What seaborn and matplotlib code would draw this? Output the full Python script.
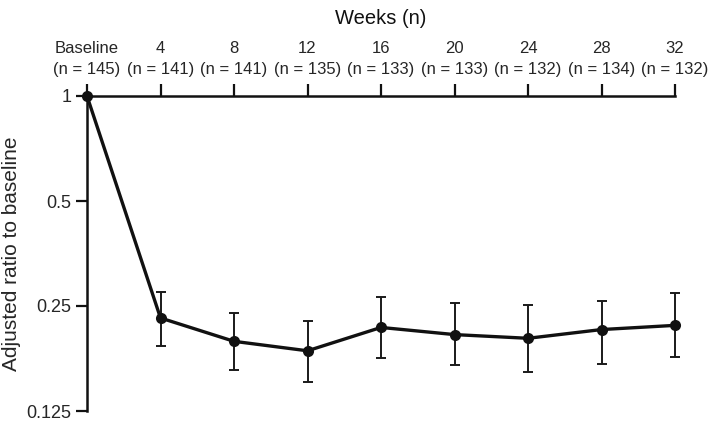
import matplotlib
matplotlib.use("Agg")
import matplotlib.pyplot as plt
import matplotlib.ticker as mticker
import seaborn as sns
import pandas as pd
import numpy as np

weeks = [0, 4, 8, 12, 16, 20, 24, 28, 32]
week_labels = ["Baseline", "4", "8", "12", "16", "20", "24", "28", "32"]
n_counts = [145, 141, 141, 135, 133, 133, 132, 134, 132]
ratio = [1.0, 0.231, 0.198, 0.186, 0.217, 0.207, 0.202, 0.214, 0.220]
ci_low = [1.0, 0.192, 0.164, 0.151, 0.177, 0.169, 0.162, 0.170, 0.179]
ci_high = [1.0, 0.275, 0.239, 0.227, 0.266, 0.255, 0.252, 0.258, 0.272]
y_ticks = [1, 0.5, 0.25, 0.125]
y_tick_labels = ["1", "0.5", "0.25", "0.125"]

sns.set_theme(style="white")
plt.rcParams["font.family"] = ["Liberation Sans", "DejaVu Sans"]

df = pd.DataFrame({"week": weeks, "ratio": ratio, "low": ci_low, "high": ci_high})

fig = plt.figure(figsize=(7.09, 4.24), dpi=100)
ax = fig.add_axes([87 / 709, 1 - 411 / 424, (675 - 87) / 709, (411 - 96) / 424])

ax.set_yscale("log", base=2)

sub = df[df["week"] > 0]
ax.errorbar(sub["week"], sub["ratio"],
            yerr=[sub["ratio"] - sub["low"], sub["high"] - sub["ratio"]],
            fmt="none", ecolor="#1a1a1a", elinewidth=1.4, capsize=3.5, capthick=1.4,
            zorder=2, clip_on=False)
sns.lineplot(data=df, x="week", y="ratio", ax=ax, color="#111111", linewidth=2.4,
             marker="o", markersize=8, markeredgewidth=0, zorder=3, clip_on=False)

ax.set_xlim(0, 32)
ax.set_ylim(0.125, 1)
ax.set_yticks(y_ticks)
ax.set_yticklabels(y_tick_labels)
ax.yaxis.set_minor_locator(mticker.NullLocator())

ax.xaxis.tick_top()
ax.set_xticks(weeks)
ax.set_xticklabels([f"{w}\n(n = {n})" for w, n in zip(week_labels, n_counts)],
                   linespacing=1.45)
ax.set_xlabel("")
ax.set_ylabel("Adjusted ratio to baseline", fontsize=15, labelpad=4)

for s in ["right", "bottom"]:
    ax.spines[s].set_visible(False)
for s in ["left", "top"]:
    ax.spines[s].set_visible(True)
    ax.spines[s].set_color("#111111")
    ax.spines[s].set_linewidth(1.8)

ax.tick_params(axis="x", which="major", direction="out", length=9, width=1.6,
               color="#111111", labelsize=12, pad=5, top=True, bottom=False,
               labeltop=True, labelbottom=False)
ax.tick_params(axis="y", which="major", direction="out", length=8, width=1.6,
               color="#111111", labelsize=13, pad=3, left=True)

fig.text((87 + 675) / 2 / 709, 1 - 18 / 424, "Weeks (n)", ha="center", va="center",
         fontsize=14.5, color="#111111")

fig.savefig("out.png", dpi=100)
